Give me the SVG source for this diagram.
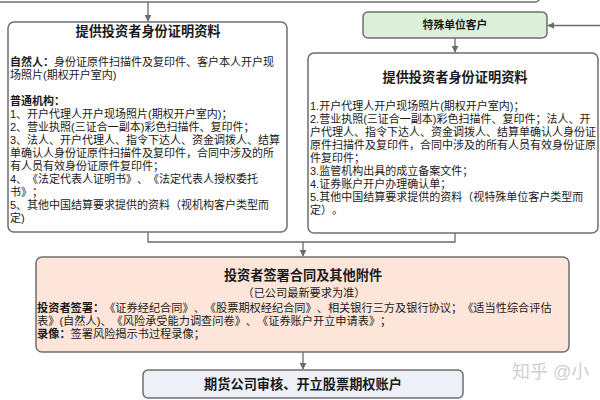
<svg xmlns="http://www.w3.org/2000/svg" width="600" height="400" viewBox="0 0 600 400">
<defs>
<marker id="ah" viewBox="0 0 10 10" refX="9" refY="5" markerWidth="7" markerHeight="7" orient="auto" markerUnits="userSpaceOnUse">
<path d="M0,0 L10,5 L0,10 z" fill="#6b6b6b"/>
</marker>
<style>
.box{stroke:#6e6e6e;stroke-width:1.5}
.t{font-family:"Liberation Sans","Noto Sans CJK SC",sans-serif;fill:#1a1a1a;text-spacing-trim:space-all;font-feature-settings:"halt" 0,"chws" 0}
.title{font-size:13.2px;font-weight:bold;text-anchor:middle}
.body{font-size:11px}
.bodyr{font-size:11px}
.bodyo{font-size:11.2px}
.b{font-weight:bold}
.conn{fill:none;stroke:#6b6b6b;stroke-width:1.3}
</style>
</defs>
<rect width="600" height="400" fill="#ffffff"/>

<g id="top-node">
<rect class="box" x="-10" y="-30" width="550" height="32" rx="5" fill="#ffffff"/>
</g>

<g id="left-node">
<rect class="box" x="8" y="22" width="279" height="210" rx="6" fill="#ffffff"/>
<text class="t title" x="148" y="36">提供投资者身份证明资料</text>
<text class="t body" x="10" y="66"><tspan class="b">自然人：</tspan>身份证原件扫描件及复印件、客户本人开户现</text>
<text class="t body" x="10" y="79">场照片(期权开户室内)</text>
<text class="t body b" x="10" y="105">普通机构：</text>
<text class="t body" x="10" y="118">1、开户代理人开户现场照片(期权开户室内)；</text>
<text class="t body" x="10" y="131">2、营业执照(三证合一副本)彩色扫描件、复印件；</text>
<text class="t body" x="10" y="144">3、法人、开户代理人、指令下达人、资金调拨人、结算</text>
<text class="t body" x="10" y="157">单确认人身份证原件扫描件及复印件，合同中涉及的所</text>
<text class="t body" x="10" y="170">有人员有效身份证原件复印件；</text>
<text class="t body" x="10" y="183">4、《法定代表人证明书》、《法定代表人授权委托</text>
<text class="t body" x="10" y="196">书》；</text>
<text class="t body" x="10" y="209">5、其他中国结算要求提供的资料（视机构客户类型而</text>
<text class="t body" x="10" y="222">定)</text>
</g>

<g id="special-node">
<rect class="box" x="363" y="12" width="184" height="26" rx="5" fill="#dcefd9"/>
<text class="t b" x="455" y="29" font-size="10.8" text-anchor="middle">特殊单位客户</text>
</g>

<g id="right-node">
<rect class="box" x="308" y="53" width="290" height="180" rx="6" fill="#ffffff"/>
<text class="t title" x="455" y="82">提供投资者身份证明资料</text>
<text class="t bodyr" x="310" y="110">1.开户代理人开户现场照片(期权开户室内)；</text>
<text class="t bodyr" x="310" y="123">2.营业执照(三证合一副本)彩色扫描件、复印件；法人、开</text>
<text class="t bodyr" x="310" y="136">户代理人、指令下达人、资金调拨人、结算单确认人身份证</text>
<text class="t bodyr" x="310" y="149">原件扫描件及复印件，合同中涉及的所有人员有效身份证原</text>
<text class="t bodyr" x="310" y="162">件复印件；</text>
<text class="t bodyr" x="310" y="175">3.监管机构出具的成立备案文件；</text>
<text class="t bodyr" x="310" y="188">4.证券账户开户办理确认单；</text>
<text class="t bodyr" x="310" y="201">5.其他中国结算要求提供的资料（视特殊单位客户类型而</text>
<text class="t bodyr" x="310" y="214">定）。</text>
</g>

<g id="contract-node">
<rect class="box" x="36" y="257" width="533" height="95" rx="6" fill="#fde6d9"/>
<text class="t title" x="303" y="280">投资者签署合同及其他附件</text>
<text class="t bodyo" x="304" y="297" text-anchor="middle">（已公司最新要求为准）</text>
<text class="t bodyo" x="37" y="312"><tspan class="b">投资者签署：</tspan>《证券经纪合同》、《股票期权经纪合同》、相关银行三方及银行协议；《适当性综合评估</text>
<text class="t bodyo" x="37" y="325">表》(自然人)、《风险承受能力调查问卷》、《证券账户开立申请表》；</text>
<text class="t bodyo" x="37" y="338"><tspan class="b">录像：</tspan>签署风险揭示书过程录像；</text>
</g>

<g id="final-node">
<rect class="box" x="143" y="370" width="320" height="28" rx="5" fill="#eef0f7"/>
<text class="t title" x="303" y="389">期货公司审核、开立股票期权账户</text>
</g>

<g id="connectors">
<path class="conn" d="M148,2 V21" marker-end="url(#ah)"/>
<path class="conn" d="M600,25.5 H548" marker-end="url(#ah)"/>
<path class="conn" d="M455,38 V52" marker-end="url(#ah)"/>
<path class="conn" d="M148,232 V242 H455 V233"/>
<path class="conn" d="M303,242 V256" marker-end="url(#ah)"/>
<path class="conn" d="M303,352 V369" marker-end="url(#ah)"/>
</g>

<text class="t" x="512" y="378" font-size="18" fill="#d0d0d0" style="fill:#d0d0d0">知乎 @小</text>
</svg>
